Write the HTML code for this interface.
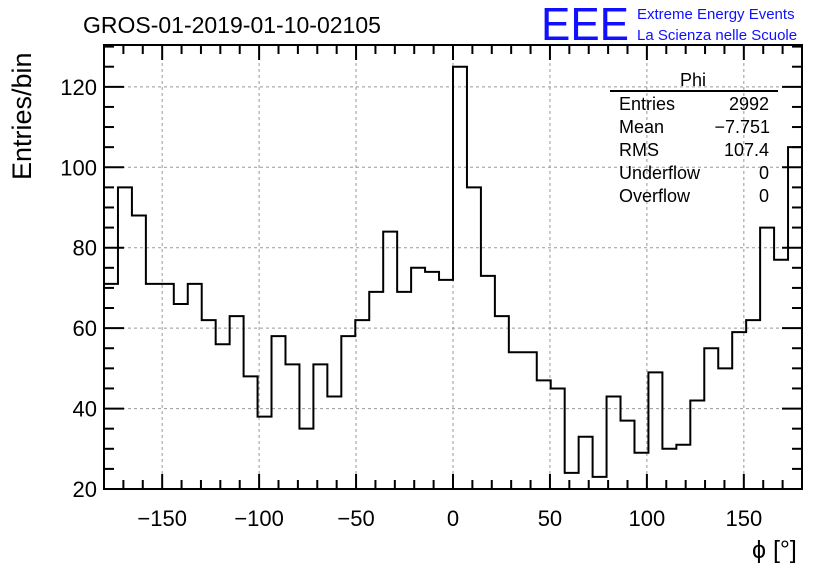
<!DOCTYPE html>
<html><head><meta charset="utf-8"><style>
body{margin:0;background:#fff;}
svg{display:block;font-family:"Liberation Sans",sans-serif;}
</style></head><body>
<svg id="chart" width="836" height="572" viewBox="0 0 836 572">
<text x="83" y="33" font-size="23">GROS-01-2019-01-10-02105</text>
<text x="541" y="40" font-size="46" fill="#1010ff" textLength="88" lengthAdjust="spacingAndGlyphs">EEE</text>
<text x="637" y="19" font-size="15" fill="#1010ff">Extreme Energy Events</text>
<text x="637" y="40" font-size="15" fill="#1010ff">La Scienza nelle Scuole</text>
<text transform="translate(31,180) rotate(-90)" font-size="27">Entries/bin</text>
<text x="752" y="558" font-size="25">ϕ [°]</text>
<g id="grid"></g><g id="ticks"></g><g id="hist"></g>
<rect x="104" y="45" width="698" height="444" fill="none" stroke="#000" stroke-width="2"/>
<g font-size="18">
<text x="693" y="86" text-anchor="middle">Phi</text>
<line x1="610" y1="91" x2="778" y2="91" stroke="#000" stroke-width="2"/>
<text x="619" y="110">Entries</text><text x="769" y="110" text-anchor="end">2992</text>
<text x="619" y="133">Mean</text><text x="770" y="133" text-anchor="end">−7.751</text>
<text x="619" y="156">RMS</text><text x="769" y="156" text-anchor="end">107.4</text>
<text x="619" y="179">Underflow</text><text x="769" y="179" text-anchor="end">0</text>
<text x="619" y="202">Overflow</text><text x="769" y="202" text-anchor="end">0</text>
</g>
</svg>
<script>
const counts=[71,95,88,71,71,66,71,62,56,63,48,38,58,51,35,51,43,58,62,69,84,69,75,74,72,
125,95,73,63,54,54,47,45,24,33,23,43,37,29,49,30,31,42,55,50,59,62,85,77,105];
const xTicks=[-150,-100,-50,0,50,100,150];
const yTicks=[20,40,60,80,100,120];
const xMin=-180,xMax=180,yMin=20,yMax=130.4;
const L=104,R=802,T=45,B=489;
const NS="http://www.w3.org/2000/svg";
function X(v){return L+(v-xMin)/(xMax-xMin)*(R-L);}
function Y(v){return B-(v-yMin)/(yMax-yMin)*(B-T);}
function mk(tag,attrs,parent){const e=document.createElementNS(NS,tag);for(const k in attrs)e.setAttribute(k,attrs[k]);document.getElementById(parent).appendChild(e);return e;}
xTicks.forEach(t=>{
 const g=mk('line',{x1:X(t),x2:X(t),y1:T,y2:B,stroke:'#999','stroke-dasharray':'3,3'},'grid');
 
 
 const tx=mk('text',{x:X(t),y:526,'font-size':22,'text-anchor':'middle'},'ticks');
 tx.textContent=t<0?'−'+(-t):String(t);
 
 
});
yTicks.forEach(t=>{
 const g=mk('line',{x1:L,x2:R,y1:Y(t),y2:Y(t),stroke:'#999','stroke-dasharray':'3,3'},'grid');
 
 
 const tx=mk('text',{x:97,y:Y(t)+8,'font-size':22,'text-anchor':'end'},'ticks');
 tx.textContent=String(t);
 
 
});
for(let v=-180;v<=180;v+=10){const maj=v%50===0;const len=maj?15:9;
 const a=mk('line',{x1:X(v),x2:X(v),y1:B,y2:B-len,stroke:'#000','stroke-width':2},'ticks');
 
 
 const b=mk('line',{x1:X(v),x2:X(v),y1:T,y2:T+len,stroke:'#000','stroke-width':2},'ticks');
 
 }
for(let v=20;v<=130;v+=5){const maj=v%20===0;const len=maj?20:10;
 const a=mk('line',{x1:L,x2:L+len,y1:Y(v),y2:Y(v),stroke:'#000','stroke-width':2},'ticks');
 
 
 const b=mk('line',{x1:R,x2:R-len,y1:Y(v),y2:Y(v),stroke:'#000','stroke-width':2},'ticks');
 
 }
const w=(xMax-xMin)/counts.length;
let d='M'+X(xMin)+','+Y(counts[0]);
counts.forEach((c,i)=>{d+=' L'+X(xMin+i*w)+','+Y(c)+' L'+X(xMin+(i+1)*w)+','+Y(c);});
const p=mk('path',{d:d,fill:'none',stroke:'#000','stroke-width':2},'hist');


</script>
</body></html>
